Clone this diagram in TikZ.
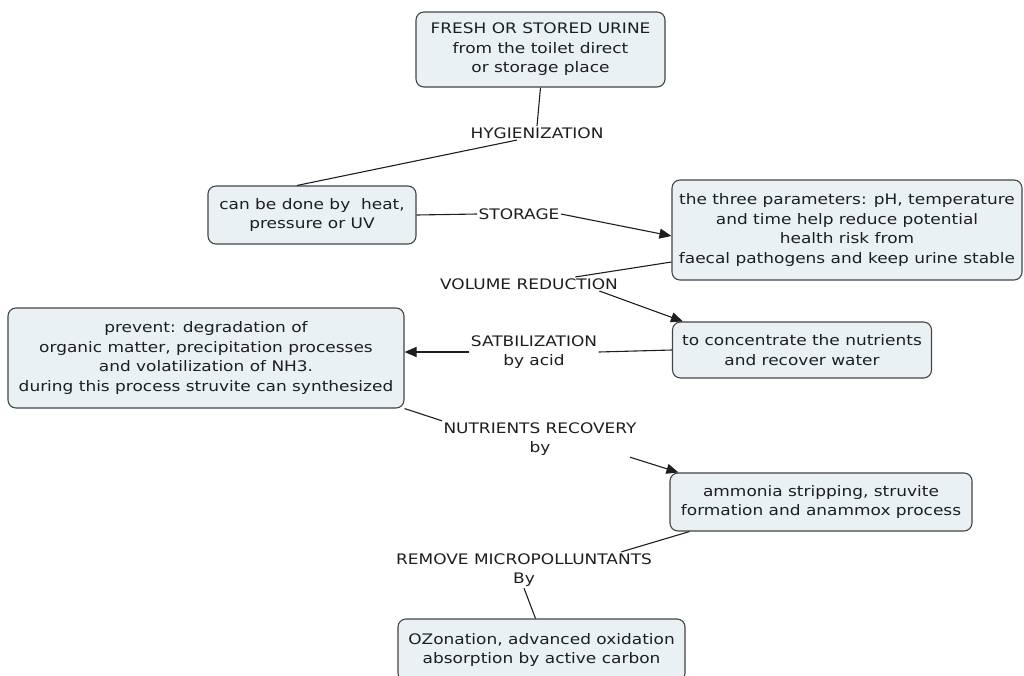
\documentclass[tikz,border=0pt]{standalone}
\usepackage{fontspec}
\setmainfont{DejaVu Sans}[FakeStretch=1.17]
\usetikzlibrary{positioning}
\usetikzlibrary{arrows.meta}
\definecolor{boxfill}{HTML}{EAF1F5}
\definecolor{boxline}{HTML}{444444}
\definecolor{ink}{HTML}{1E1E1E}

\begin{document}
\begin{tikzpicture}[x=1pt,y=-1pt,line width=1.1pt,color=ink] % concept map, image coordinates
\tikzstyle{concept}=[draw=boxline,fill=boxfill,rounded corners=8pt,align=center,inner sep=2pt,font=\fontsize{14.5}{19.5}\selectfont]
\tikzstyle{link}=[align=center,inner sep=1pt,font=\fontsize{14.5}{19.5}\selectfont]
\tikzstyle{tip}=[-{Triangle[length=12pt,width=10pt]}]
\useasboundingbox (0,0) rectangle (1024,675);

\draw (540.5,49.5) node[concept,minimum width=249pt,minimum height=75pt] (fresh) {FRESH OR STORED URINE\\from the toilet direct\\or storage place}; % source
\draw (312,215) node[concept,minimum width=208pt,minimum height=58pt] (heat) {can be done by\ \ heat,\\pressure or UV}; % hygienization means
\draw (847,230) node[concept,minimum width=350pt,minimum height=100pt] (three) {the three parameters: pH, temperature\\and time help reduce potential\\health risk from\\faecal pathogens and keep urine stable}; % storage
\draw (802,350) node[concept,minimum width=259pt,minimum height=56pt] (conc) {to concentrate the nutrients\\and recover water}; % volume reduction
\draw (206,358) node[concept,minimum width=396pt,minimum height=100pt] (prev) {prevent: degradation of\\organic matter, precipitation processes\\and volatilization of NH3.\\during this process struvite can synthesized}; % stabilization
\draw (821,502) node[concept,minimum width=302pt,minimum height=58pt] (amm) {ammonia stripping, struvite\\formation and anammox process}; % recovery
\draw (541.5,650) node[concept,minimum width=287pt,minimum height=62pt] (ozo) {OZonation, advanced oxidation\\absorption by active carbon}; % micropollutants

% linking phrases
\draw (537,133) node[link] (hyg) {HYGIENIZATION};
\draw (519,214) node[link] (stor) {STORAGE};
\draw (529,284) node[link] (vol) {VOLUME REDUCTION};
\draw (534,352) node[link] (sat) {SATBILIZATION\\by acid};
\draw (540,439) node[link] (nut) {NUTRIENTS RECOVERY\\by};
\draw (524,570) node[link] (rem) {REMOVE MICROPOLLUNTANTS\\By};

% connectors
\draw (fresh.south) -- (hyg.north);
\draw ([xshift=-20pt]hyg.south) -- ([xshift=-15pt]heat.north);
\draw (heat.east) -- (stor.west);
\draw[tip] (stor.east) -- ([yshift=-6pt]three.west);
\draw ([yshift=-32pt]three.west) -- ([xshift=-44pt]vol.north east);
\draw[tip] ([xshift=-20pt]vol.south east) -- ([xshift=11pt]conc.north west);
\draw (conc.west) -- (sat.east);
\draw[tip] (sat.west) -- (sat.west -| prev.east);
\draw (prev.south east) -- (nut.north west);
\draw[tip] ([xshift=-8pt]nut.south east) -- ([xshift=9pt]amm.north west);
\draw ([xshift=20pt]amm.south west) -- ([xshift=-32pt]rem.north east);
\draw (rem.south) -- ([xshift=-6pt]ozo.north);
\end{tikzpicture}
\end{document}
